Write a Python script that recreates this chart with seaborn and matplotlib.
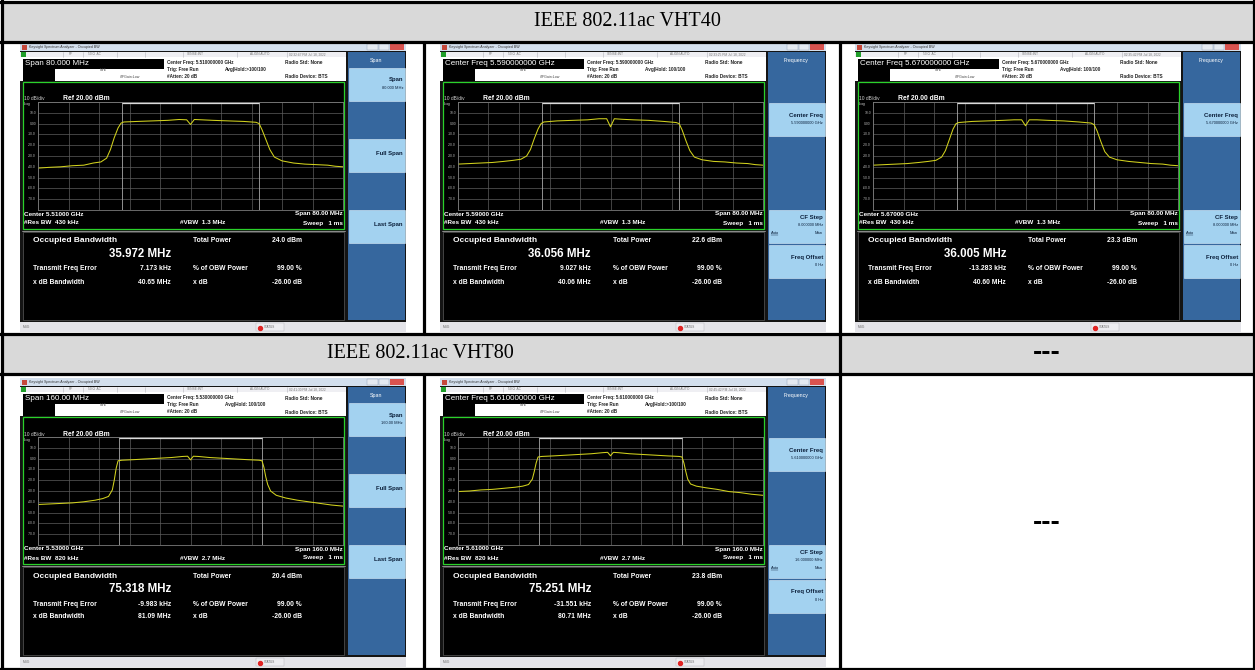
import numpy as np
import pandas as pd
import matplotlib
matplotlib.use("Agg")
import matplotlib.pyplot as plt
import seaborn as sns
from matplotlib.patches import Rectangle, Circle

# --- 1. Values ---
row_titles = ["IEEE 802.11ac VHT40", "IEEE 802.11ac VHT80"]
empty_text = "---"

active_key = ["Span 80.000 MHz", "Center Freq 5.590000000 GHz", "Center Freq 5.670000000 GHz",
              "Span 160.00 MHz", "Center Freq 5.610000000 GHz"]
center_freq = ["5.510000000", "5.590000000", "5.670000000", "5.530000000", "5.610000000"]
center_ghz = ["5.51000", "5.59000", "5.67000", "5.53000", "5.61000"]
span_mhz = [80, 80, 80, 160, 160]
span_text = ["80.00 MHz", "80.00 MHz", "80.00 MHz", "160.0 MHz", "160.0 MHz"]
span_key = ["80.000 MHz", "80.000 MHz", "80.000 MHz", "160.00 MHz", "160.00 MHz"]
cf_step = ["8.000000 MHz", "8.000000 MHz", "8.000000 MHz", "16.000000 MHz", "16.000000 MHz"]
res_bw = ["430 kHz", "430 kHz", "430 kHz", "820 kHz", "820 kHz"]
vbw = ["1.3 MHz", "1.3 MHz", "1.3 MHz", "2.7 MHz", "2.7 MHz"]
avg_hold = [">100/100", " 100/100", " 100/100", " 100/100", ">100/100"]
timestamps = ["02:32:47 PM Jul 18, 2022", "02:33:25 PM Jul 18, 2022", "02:35:42 PM Jul 18, 2022",
              "02:41:30 PM Jul 18, 2022", "02:45:42 PM Jul 18, 2022"]
menus = ["Span", "Frequency", "Frequency", "Span", "Frequency"]

occ_bw_mhz = [35.972, 36.056, 36.005, 75.318, 75.251]
total_power = ["24.0 dBm", "22.6 dBm", "23.3 dBm", "20.4 dBm", "23.8 dBm"]
freq_error = ["7.173 kHz", "9.027 kHz", "-13.283 kHz", "-9.983 kHz", "-31.551 kHz"]
xdb_bw = ["40.65 MHz", "40.06 MHz", "40.60 MHz", "81.09 MHz", "80.71 MHz"]
obw_power = "99.00 %"
xdb_value = "-26.00 dB"
grid_labels = ["10.0", "0.00", "-10.0", "-20.0", "-30.0", "-40.0", "-50.0", "-60.0", "-70.0"]

# trace samples (offset from center in MHz, level in dBm)
freq_vht40 = [-40, -37, -34, -31, -28, -25.5, -23.5, -22, -21, -20, -19, -18.2, -17.5, -14, -10, -6, -3, -1, 0,
              1, 3, 6, 10, 14, 17.2, 18, 18.8, 19.8, 20.8, 22, 24, 27, 30, 33, 36, 38, 40]
level_5510 = [-41.2, -40.5, -40, -39, -38.5, -36.5, -35.5, -32, -24, -13, -4, 0.5, 1.5, 2, 2.5, 3, 3.8, 3.5, -0.8,
              3.8, 3.5, 3, 2.5, 2, 1.2, 0, -6, -15, -24, -31, -34.5, -36.5, -37.5, -38, -38.5, -39.5, -40]
level_5590 = [-37.5, -37, -36.5, -36, -35, -34, -33, -30, -24, -14, -5, 0, 1.5, 2.5, 3, 3.5, 4.5, 4.5, -3,
              4.5, 4, 3.5, 3, 2, 1, 0, -6, -16, -25, -31, -33.5, -35, -35.5, -36.5, -37, -38, -38.5]
level_5670 = [-38.5, -38, -37.5, -37, -36, -35, -34, -31, -25, -15, -5, 0, 1, 2, 2.5, 3, 3.5, 3.5, -2,
              3.5, 3.5, 3, 2.5, 1.5, 0.5, -1, -7, -17, -26, -31, -33.5, -35, -36, -37, -37.5, -38.5, -39]
freq_vht80 = [-80, -74, -68, -62, -56, -50, -46, -43, -41, -40, -39, -38, -36, -30, -20, -10, -4, -1.5, 0,
              1.5, 4, 10, 20, 30, 36, 37.5, 38.5, 39.5, 40.5, 42, 45, 50, 56, 62, 68, 74, 80]
level_5530 = [-42.5, -42, -41.5, -41, -40, -38.5, -37, -35, -29, -20, -9, -2, -1.5, -1, 0, 1, 2, 2.2, -1.2,
              2.2, 2, 1, 0, -1, -1.5, -2, -8, -17, -24, -30, -34, -36.5, -38.5, -40, -41.5, -43, -44]
level_5610 = [-30.5, -30, -29, -28.5, -27.5, -26.5, -25.5, -24, -19, -12, -4, 1.5, 2, 2.5, 3.5, 4.5, 5.5, 5.8, 2.6,
              5.8, 5.5, 4.5, 3.5, 2.5, 2, 1.5, -4, -12, -19, -23.5, -25.5, -27, -28.5, -30.5, -31.5, -33, -34]

trace_freqs = [freq_vht40, freq_vht40, freq_vht40, freq_vht80, freq_vht80]
trace_levels = [level_5510, level_5590, level_5670, level_5530, level_5610]

# --- 2. Figure and table ---
sns.set_theme(style="white")
plt.rcParams["font.family"] = ["Liberation Sans", "DejaVu Sans"]

FW, FH = 1255, 670
fig = plt.figure(figsize=(FW / 100, FH / 100), dpi=100)
bg = fig.add_axes([0, 0, 1, 1])
bg.set_xlim(0, FW)
bg.set_ylim(FH, 0)
bg.axis("off")

PANEL = "#36679e"
KEY = "#a3d2f0"
KEYTXT = "#0b1f3a"


def box(x, y, w, h, fc, ec="none", lw=0, z=2):
    bg.add_patch(Rectangle((x, y), w, h, facecolor=fc, edgecolor=ec, linewidth=lw, zorder=z))


def txt(x, y, s, size, color="white", weight="normal", ha="left", z=3, **kw):
    bg.text(x, y, s, fontsize=size, color=color, fontweight=weight, ha=ha, va="center", zorder=z, **kw)


box(2, 2, 1251, 39.5, "#d9d9d9", z=1)
box(2, 334, 1251, 39.5, "#d9d9d9", z=1)
txt(627, 21, row_titles[0], 14.5, color="black", ha="center", family="Liberation Serif")
txt(420, 354, row_titles[1], 14.5, color="black", ha="center", family="Liberation Serif")
txt(1047, 353, empty_text, 20, color="black", weight="bold", ha="center")
txt(1047, 523, empty_text, 20, color="black", weight="bold", ha="center")

LW = 2.3
for yy in [2, 41.5, 334, 373.5, 668.5]:
    bg.plot([0, FW], [yy, yy], color="black", lw=LW, zorder=6, solid_capstyle="projecting")
for xx in [2, 1253.5]:
    bg.plot([xx, xx], [0, FH], color="black", lw=LW, zorder=6)
bg.plot([423.5, 423.5], [41.5, 334], color="black", lw=LW, zorder=6)
bg.plot([423.5, 423.5], [373.5, 668.5], color="black", lw=LW, zorder=6)
bg.plot([839.5, 839.5], [41.5, 668.5], color="black", lw=LW, zorder=6)


# --- 3. One analyser screenshot ---
def draw_shot(i, x0, y0):
    W, H = 386, 289

    def B(x, y, w, h, fc, **kw):
        box(x0 + x, y0 + y, w, h, fc, **kw)

    def T(x, y, s, size, **kw):
        txt(x0 + x, y0 + y, s, size, **kw)

    B(0, 0, W, H, "#141414")
    # title bar
    B(0, 0, W, 8, "#d3dfed")
    B(1.5, 1.5, 5, 5, "#c4473a")
    T(9, 4, "Keysight Spectrum Analyzer - Occupied BW", 2.6, color="#333333")
    B(347, 1.2, 11, 5.4, "#e4e9f0", ec="#8a9ab0", lw=0.3)
    B(359, 1.2, 10, 5.4, "#e4e9f0", ec="#8a9ab0", lw=0.3)
    B(370, 1.2, 14, 5.4, "#d9534f")
    # status row
    B(0, 8.5, 326, 5.5, "#efeff3")
    B(0.5, 9, 5, 4.5, "#1f9e2a")
    for sx in [43, 63, 97, 125, 163, 217, 267]:
        bg.plot([x0 + sx, x0 + sx], [y0 + 8.8, y0 + 13.6], color="#b5b5bd", lw=0.4, zorder=3)
    T(49, 11.2, "RF", 2.3, color="#777777")
    T(68, 11.2, "50 \u03a9  AC", 2.3, color="#777777")
    T(167, 11.2, "SENSE:INT", 2.3, color="#777777")
    T(230, 11.2, "ALIGN AUTO", 2.3, color="#777777")
    T(269, 11.2, timestamps[i], 2.3, color="#777777")
    # settings area
    B(0, 14, 326, 24, "white")
    B(3, 15.5, 141, 10, "black")
    T(5, 20.5, active_key[i], 5.8)
    B(3, 25.5, 32, 12, "black")
    T(80, 27, "NFE", 2.6, color="#444444")
    T(100, 34, "#IFGain:Low", 2.6, color="#444444")
    T(147, 19.5, "Center Freq: " + center_freq[i] + " GHz", 3.3, color="#222222", weight="bold")
    T(147, 26.5, "Trig: Free Run", 3.3, color="#222222", weight="bold")
    T(205, 26.5, "Avg|Hold:" + avg_hold[i], 3.3, color="#222222", weight="bold")
    T(147, 33.5, "#Atten: 20 dB", 3.3, color="#222222", weight="bold")
    T(265, 20, "Radio Std: None", 3.4, color="#222222", weight="bold")
    T(265, 34, "Radio Device: BTS", 3.4, color="#222222", weight="bold")

    # graph frame
    B(3, 39, 321, 147, "black", ec="#2ad12a", lw=0.9)
    T(4, 56, "10 dB/div", 3.5, color="#cfcfcf")
    T(43, 56, "Ref 20.00 dBm", 4.9, weight="bold")
    T(3.5, 61.5, "Log", 3.0, color="#cfcfcf")
    for k, lab in enumerate(grid_labels, start=1):
        T(16, 59 + 10.8 * k, lab, 2.4, color="#b8b8b8", ha="right")
    T(4, 171, "Center " + center_ghz[i] + " GHz", 4.6, weight="bold")
    T(323, 171, "Span " + span_text[i], 4.6, weight="bold", ha="right")
    T(4, 180, "#Res BW  " + res_bw[i], 4.6, weight="bold")
    T(183, 180, "#VBW  " + vbw[i], 4.6, weight="bold", ha="center")
    T(323, 180, "Sweep   1 ms", 4.6, weight="bold", ha="right")

    # measurement panel
    bg.plot([x0 + 2, x0 + 325], [y0 + 187.8, y0 + 187.8], color="#a0a0a0", lw=0.6, zorder=3)
    B(3, 189, 321, 88, "black", ec="#5a5a5a", lw=0.5)
    T(13, 198, "Occupied Bandwidth", 6, weight="bold")
    T(151, 211, "%.3f MHz" % occ_bw_mhz[i], 8.3, weight="bold", ha="right")
    T(173, 198, "Total Power", 4.9, weight="bold")
    T(282, 198, total_power[i], 4.9, weight="bold", ha="right")
    T(13, 226, "Transmit Freq Error", 4.9, weight="bold")
    T(151, 226, freq_error[i], 4.9, weight="bold", ha="right")
    T(173, 226, "% of OBW Power", 4.9, weight="bold")
    T(282, 226, obw_power, 4.9, weight="bold", ha="right")
    T(13, 239, "x dB Bandwidth", 4.9, weight="bold")
    T(151, 239, xdb_bw[i], 4.9, weight="bold", ha="right")
    T(173, 239, "x dB", 4.9, weight="bold")
    T(282, 239, xdb_value, 4.9, weight="bold", ha="right")

    # status bar
    B(0, 279, W, 10, "#e4e4e9")
    T(3, 284, "MSG", 2.3, color="#666666")
    B(236, 280, 28, 8, "#ececf0", ec="#b0b0b8", lw=0.3)
    bg.add_patch(Circle((x0 + 240.5, y0 + 285.5), 2.0, color="#e02424", zorder=3))
    T(244, 284, "STATUS", 2.2, color="#666666")

    # soft key panel
    B(328, 9, 57, 268, PANEL)
    T(356.5, 17.5, menus[i], 3.8, ha="center")
    if menus[i] == "Span":
        keys = {0: ("Span", span_key[i], False), 2: ("Full Span", "", False), 4: ("Last Span", "", False)}
    else:
        keys = {1: ("Center Freq", center_freq[i] + " GHz", False), 4: ("CF Step", cf_step[i], True),
                5: ("Freq Offset", "0 Hz", False)}
    for slot, (title, value, automan) in keys.items():
        top = 25 + 35.4 * slot
        B(329, top, 55.5, 33, KEY, ec="#dbeefa", lw=0.4)
        if automan:
            T(383, top + 8, title, 4.3, color=KEYTXT, weight="bold", ha="right")
            T(383, top + 15.5, value, 2.8, color=KEYTXT, ha="right")
            T(331, top + 23, "Auto", 2.9, color=KEYTXT)
            bg.plot([x0 + 331, x0 + 337.5], [y0 + top + 25, y0 + top + 25], color=KEYTXT, lw=0.3, zorder=3)
            T(383, top + 23, "Man", 2.9, color=KEYTXT, ha="right")
        elif value:
            T(383, top + 12, title, 4.3, color=KEYTXT, weight="bold", ha="right")
            T(383, top + 20, value, 2.9, color=KEYTXT, ha="right")
        else:
            T(383, top + 15, title, 4.3, color=KEYTXT, weight="bold", ha="right")

    # trace display
    gx, gy, gw, gh = x0 + 18, y0 + 59, 305, 108
    ax = fig.add_axes([gx / FW, 1 - (gy + gh) / FH, gw / FW, gh / FH])
    half = span_mhz[i] / 2
    ax.set_facecolor("black")
    ax.set_xlim(-half, half)
    ax.set_ylim(-80, 20)
    ax.set_xticks(np.linspace(-half, half, 11))
    ax.set_yticks(np.arange(-80, 21, 10))
    ax.grid(True, color="#5c5c5c", lw=0.5)
    ax.tick_params(length=0, labelbottom=False, labelleft=False)
    for sp in ax.spines.values():
        sp.set_color("#7a7a7a")
        sp.set_linewidth(0.6)
    edge = occ_bw_mhz[i] / 2
    ax.axvline(-edge, color="#a8a8a8", lw=0.6)
    ax.axvline(edge, color="#a8a8a8", lw=0.6)
    ax.hlines(19.4, -edge, edge, color="#dcdcdc", lw=0.9)
    df = pd.DataFrame({"freq": trace_freqs[i], "level": trace_levels[i]})
    sns.lineplot(data=df, x="freq", y="level", ax=ax, color="#d2d21e", lw=0.75,
                 estimator=None, sort=False)
    ax.set_xlabel("")
    ax.set_ylabel("")


shot_origins = [(20, 43), (440, 43), (855, 43), (20, 378), (440, 378)]
for idx, (sx, sy) in enumerate(shot_origins):
    draw_shot(idx, sx, sy)

fig.savefig("out.png", dpi=100)
